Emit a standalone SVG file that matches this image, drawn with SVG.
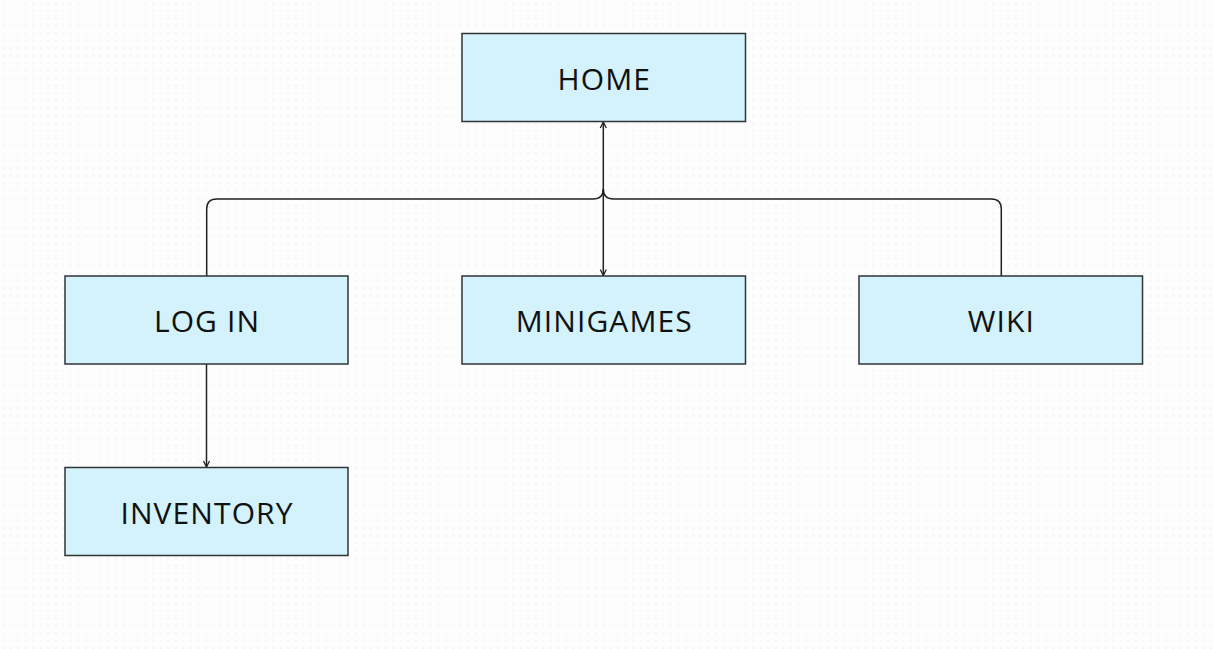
<svg xmlns="http://www.w3.org/2000/svg" width="1214" height="649" viewBox="0 0 1214 649">
<style>
.box{fill:#d3f2fc;stroke:#2f3437;stroke-width:1.5}
.lbl{font-family:"Open Sans","Noto Sans",sans-serif;font-size:30px;letter-spacing:1.1px;fill:#111;text-anchor:middle}
.con{fill:none;stroke:#222;stroke-width:1.5}
</style>
<defs>
<pattern id="dots" width="7.5" height="7.5" patternUnits="userSpaceOnUse">
<rect x="2.5" y="2.5" width="1.5" height="1.5" fill="#ededed"/>
</pattern>
<marker id="ah" viewBox="0 0 8 8" refX="7" refY="4" markerWidth="8" markerHeight="8" markerUnits="userSpaceOnUse" orient="auto-start-reverse">
<path d="M1,1 L7,4 L1,7" fill="none" stroke="#222" stroke-width="1.3"/>
</marker>
</defs>
<rect width="1214" height="649" fill="#fdfdfd"/>
<rect width="1214" height="649" fill="url(#dots)"/>
<g id="connectors">
<path class="con" d="M206.7,276 V209 Q206.7,199 216.7,199 H593 Q603.3,199 603.3,189"/>
<path class="con" d="M1001.3,276 V209 Q1001.3,199 991.3,199 H613.6 Q603.3,199 603.3,189"/>
<path class="con" d="M603.3,122 V275.5" marker-start="url(#ah)" marker-end="url(#ah)"/>
<path class="con" d="M206.5,364 V467" marker-end="url(#ah)"/>
</g>
<g id="home"><rect class="box" x="462" y="33.5" width="283.5" height="88"/><text class="lbl" x="604.3" y="90">HOME</text></g>
<g id="login"><rect class="box" x="65" y="276" width="283" height="88"/><text class="lbl" x="207" y="332">LOG IN</text></g>
<g id="minigames"><rect class="box" x="462" y="276" width="283.5" height="88"/><text class="lbl" x="604.3" y="332">MINIGAMES</text></g>
<g id="wiki"><rect class="box" x="859" y="276" width="283.5" height="88"/><text class="lbl" x="1001.3" y="332">WIKI</text></g>
<g id="inventory"><rect class="box" x="65" y="467.5" width="283" height="88"/><text class="lbl" x="207" y="524">INVENTORY</text></g>
</svg>
